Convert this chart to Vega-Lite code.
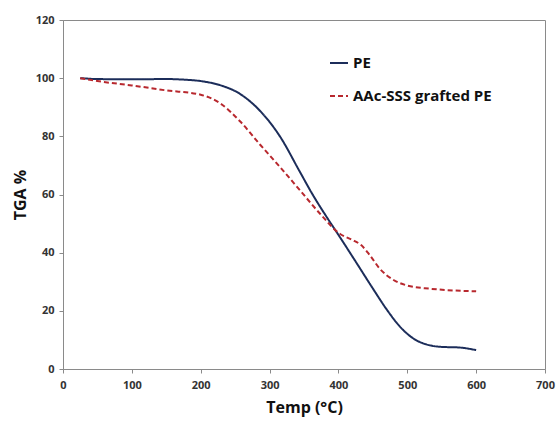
{
  "$schema": "https://vega.github.io/schema/vega-lite/v6.json",
  "width": 482,
  "height": 349,
  "autosize": {"type": "none"},
  "padding": {"left": 63, "top": 20, "right": 11, "bottom": 52},
  "background": "white",
  "config": {
    "view": {"stroke": "#8a8a8a", "strokeWidth": 1},
    "font": "Open Sans"
  },
  "data": {
    "values": [
      {"series": "PE", "temp": 25, "tga": 100},
      {"series": "PE", "temp": 50, "tga": 99.7},
      {"series": "PE", "temp": 100, "tga": 99.6},
      {"series": "PE", "temp": 150, "tga": 99.7},
      {"series": "PE", "temp": 175, "tga": 99.5},
      {"series": "PE", "temp": 200, "tga": 99.0},
      {"series": "PE", "temp": 228, "tga": 97.6},
      {"series": "PE", "temp": 257, "tga": 94.6},
      {"series": "PE", "temp": 286, "tga": 88.8},
      {"series": "PE", "temp": 315, "tga": 80.0},
      {"series": "PE", "temp": 344, "tga": 67.8},
      {"series": "PE", "temp": 363, "tga": 59.8},
      {"series": "PE", "temp": 382, "tga": 52.6},
      {"series": "PE", "temp": 402, "tga": 45.4},
      {"series": "PE", "temp": 427, "tga": 36.2},
      {"series": "PE", "temp": 451, "tga": 27.3},
      {"series": "PE", "temp": 470, "tga": 20.5},
      {"series": "PE", "temp": 490, "tga": 14.4},
      {"series": "PE", "temp": 510, "tga": 10.3},
      {"series": "PE", "temp": 530, "tga": 8.3},
      {"series": "PE", "temp": 550, "tga": 7.6},
      {"series": "PE", "temp": 575, "tga": 7.4},
      {"series": "PE", "temp": 600, "tga": 6.5},
      {"series": "AAc-SSS grafted PE", "temp": 25, "tga": 100},
      {"series": "AAc-SSS grafted PE", "temp": 50, "tga": 99.0},
      {"series": "AAc-SSS grafted PE", "temp": 100, "tga": 97.5},
      {"series": "AAc-SSS grafted PE", "temp": 150, "tga": 95.8},
      {"series": "AAc-SSS grafted PE", "temp": 200, "tga": 94.3},
      {"series": "AAc-SSS grafted PE", "temp": 228, "tga": 91.4},
      {"series": "AAc-SSS grafted PE", "temp": 257, "tga": 85.2},
      {"series": "AAc-SSS grafted PE", "temp": 286, "tga": 77.2},
      {"series": "AAc-SSS grafted PE", "temp": 315, "tga": 69.5},
      {"series": "AAc-SSS grafted PE", "temp": 344, "tga": 61.5},
      {"series": "AAc-SSS grafted PE", "temp": 374, "tga": 53.2},
      {"series": "AAc-SSS grafted PE", "temp": 402, "tga": 46.5},
      {"series": "AAc-SSS grafted PE", "temp": 420, "tga": 44.4},
      {"series": "AAc-SSS grafted PE", "temp": 433, "tga": 42.6},
      {"series": "AAc-SSS grafted PE", "temp": 446, "tga": 39.0},
      {"series": "AAc-SSS grafted PE", "temp": 460, "tga": 34.5},
      {"series": "AAc-SSS grafted PE", "temp": 480, "tga": 30.6},
      {"series": "AAc-SSS grafted PE", "temp": 500, "tga": 28.7},
      {"series": "AAc-SSS grafted PE", "temp": 533, "tga": 27.6},
      {"series": "AAc-SSS grafted PE", "temp": 567, "tga": 27.0},
      {"series": "AAc-SSS grafted PE", "temp": 600, "tga": 26.7}
    ]
  },
  "mark": {"type": "line", "interpolate": "monotone", "strokeWidth": 2},
  "encoding": {
    "x": {
      "field": "temp", "type": "quantitative",
      "scale": {"domain": [0, 700], "nice": false, "zero": false},
      "axis": {
        "title": "Temp (°C)", "values": [0, 100, 200, 300, 400, 500, 600, 700],
        "grid": false, "domainColor": "#8a8a8a", "tickColor": "#8a8a8a", "tickSize": 4,
        "labelFont": "Open Sans", "labelFontWeight": "bold", "labelFontSize": 11, "labelColor": "#333333",
        "labelPadding": 6, "labelFlush": false,
        "titleFont": "Open Sans", "titleFontWeight": "bold", "titleFontSize": 16, "titleColor": "#111111",
        "titlePadding": 9
      }
    },
    "y": {
      "field": "tga", "type": "quantitative",
      "scale": {"domain": [0, 120], "nice": false},
      "axis": {
        "title": "TGA %", "values": [0, 20, 40, 60, 80, 100, 120],
        "grid": false, "domainColor": "#8a8a8a", "tickColor": "#8a8a8a", "tickSize": 4,
        "labelFont": "Open Sans", "labelFontWeight": "bold", "labelFontSize": 11, "labelColor": "#333333",
        "labelPadding": 5,
        "titleFont": "Open Sans", "titleFontWeight": "bold", "titleFontSize": 16, "titleColor": "#111111",
        "titlePadding": 7
      }
    },
    "color": {
      "field": "series", "type": "nominal",
      "scale": {"domain": ["PE", "AAc-SSS grafted PE"], "range": ["#1c2d5a", "#b8282e"]},
      "legend": {
        "title": null, "orient": "none", "legendX": 266, "legendY": 33,
        "symbolType": "stroke", "symbolSize": 324, "symbolStrokeWidth": 2,
        "labelFont": "Open Sans", "labelFontWeight": "bold", "labelFontSize": 15, "labelColor": "#111111",
        "labelOffset": 4, "rowPadding": 15
      }
    },
    "strokeDash": {
      "field": "series", "type": "nominal",
      "scale": {"domain": ["PE", "AAc-SSS grafted PE"], "range": [[1, 0], [5, 3]]},
      "legend": null
    }
  }
}
